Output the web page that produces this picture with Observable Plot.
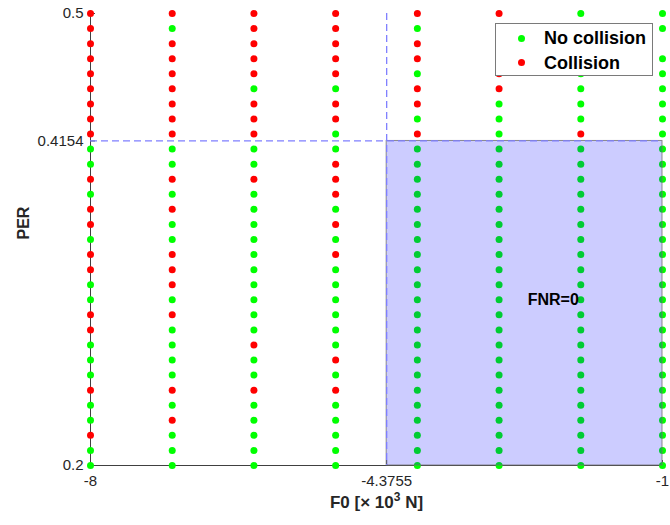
<!DOCTYPE html>
<html>
<head>
<meta charset="utf-8">
<script src="https://cdn.jsdelivr.net/npm/d3@7"></script>
<script src="https://cdn.jsdelivr.net/npm/@observablehq/plot@0.6"></script>
<style>
  body { margin: 0; background: #fff; font-family: "Liberation Sans", Arial, sans-serif; }
  #wrap { position: relative; width: 670px; height: 525px; }
  .legend { position: absolute; left: 495px; top: 23px; width: 158px; height: 53px;
            border: 1px solid #7a7a7a; background: #fff; box-sizing: border-box; }
  .dot { position: absolute; width: 7px; height: 7px; border-radius: 50%; }
  .lab { position: absolute; font-weight: bold; font-size: 18px; line-height: 18px; color: #000; white-space: nowrap; }
</style>
</head>
<body>
<div id="wrap"></div>
<script>
// ---- data ----
const f0Values = [-8, -7, -6, -5, -4, -3, -2, -1];
const perValues = [0.50, 0.49, 0.48, 0.47, 0.46, 0.45, 0.44, 0.43, 0.42, 0.41,
                   0.40, 0.39, 0.38, 0.37, 0.36, 0.35, 0.34, 0.33, 0.32, 0.31,
                   0.30, 0.29, 0.28, 0.27, 0.26, 0.25, 0.24, 0.23, 0.22, 0.21, 0.20];
// outcome per column (top 0.50 -> bottom 0.20): G = no collision, R = collision, . = no point
const outcomeColumns = [
  "RRRRRRRRRGGRGRRGRRGGRRGGGRGGRGG", // F0 = -8
  "RGRRRRRRRGGRGRGGRRRGRGGGGRGRGGG", // F0 = -7
  "RRRRRGRRRGGRGGGGGGGGGGRGGRGGGGG", // F0 = -6
  "RRRRRGRRGGRRRGRGRGGGGGGRGRGGGGG", // F0 = -5
  "RGRRGRRGRGGGGGGGGGGGGGGGGGGGGGG", // F0 = -4
  "RRRRRRGGGGGGGGGGGGGGGGGGGGGGGGG", // F0 = -3
  "GGGGGGGGRGGGGGGGGGGGGGGGGGGGGGG", // F0 = -2
  "GG.GGGGGGGGGGGGGGGGGGGGGGGGGGGG"  // F0 = -1
];
const statusLabels = ["No collision", "Collision"];
const statusCodes = ["G", "R"];
const statusColors = ["#00ff00", "#ff0000"];
const f0Threshold = -4.3755;
const perThreshold = 0.4154;
const xDomain = [-8, -1];
const yDomain = [0.2, 0.5];
const xTicks = [-8, -4.3755, -1];
const yTicks = [0.2, 0.4154, 0.5];
const xLabel = "F0 [\u00d7 10^3 N]";
const yLabel = "PER";
const annotation = {text: "FNR=0", f0: -2.65, per: 0.31};

// ---- build table ----
const points = [];
outcomeColumns.forEach((col, i) => {
  [...col].forEach((c, j) => {
    const k = statusCodes.indexOf(c);
    if (k >= 0) points.push({f0: f0Values[i], per: perValues[j], status: statusLabels[k]});
  });
});
const region = [{x1: f0Threshold, x2: xDomain[1], y1: yDomain[0], y2: perThreshold}];

const chart = Plot.plot({
  width: 670,
  height: 525,
  marginLeft: 90,
  marginRight: 8,
  marginTop: 13,
  marginBottom: 60,
  x: {domain: xDomain, axis: null},
  y: {domain: yDomain, axis: null},
  color: {domain: statusLabels, range: statusColors},
  style: {fontFamily: "'Liberation Sans', Arial, sans-serif", fontSize: "15px", color: "#262626", background: "#fff", overflow: "visible"},
  marks: [
    Plot.ruleX([xDomain[0]], {stroke: "#404040"}),
    Plot.ruleY([yDomain[0]], {stroke: "#404040"}),
    Plot.ruleY(yTicks, {x1: xDomain[0], x2: xDomain[0], insetRight: -5, stroke: "#404040"}),
    Plot.ruleX(xTicks, {y1: yDomain[0], y2: yDomain[0], insetBottom: 5, stroke: "#404040"}),
    Plot.dot(points, {x: "f0", y: "per", r: 3.5, fill: "status", stroke: "none"}),
    Plot.rect(region, {x1: "x1", x2: "x2", y1: "y1", y2: "y2", fill: "#0000ff", fillOpacity: 0.2, stroke: "#707070", strokeOpacity: 0.8}),
    Plot.ruleX([f0Threshold], {stroke: "#7f7fff", strokeDasharray: "7,4", strokeWidth: 1.3}),
    Plot.ruleY([perThreshold], {stroke: "#7f7fff", strokeDasharray: "7,4", strokeWidth: 1.3}),
    Plot.axisY(yTicks, {tickSize: 0, tickPadding: 7, tickFormat: d => String(d), fill: "#262626"}),
    Plot.axisX(xTicks, {tickSize: 0, tickPadding: 10, tickFormat: d => String(d), fill: "#262626"}),
    Plot.text([xLabel], {text: d => d, frameAnchor: "bottom", dy: 42, fontWeight: "bold", fontSize: 17, fill: "#262626", className: "xlabel"}),
    Plot.text([yLabel], {text: d => d, frameAnchor: "left", dx: -67, rotate: -90, fontWeight: "bold", fontSize: 16, fill: "#262626"}),
    Plot.text([annotation], {x: "f0", y: "per", text: "text", textAnchor: "start", fontWeight: "bold", fontSize: 16, fill: "#000"})
  ]
});

// render the "^3" as a real superscript
d3.select(chart).selectAll("g.xlabel text").each(function() {
  const t = d3.select(this);
  const s = t.text();
  const m = s.split("^");
  if (m.length === 2) {
    t.text(null);
    t.append("tspan").text(m[0]);
    t.append("tspan").attr("font-size", 12).attr("dy", "-7").text(m[1].charAt(0));
    t.append("tspan").attr("dy", "7").text(m[1].slice(1));
  }
});

const wrap = document.getElementById("wrap");
wrap.appendChild(chart);

// legend overlay
const legend = document.createElement("div");
legend.className = "legend";
statusLabels.forEach((label, i) => {
  const cy = 14 + i * 24.5;
  const dot = document.createElement("div");
  dot.className = "dot";
  dot.style.left = (25 - 3.5) + "px";
  dot.style.top = (cy - 3.5) + "px";
  dot.style.background = statusColors[i];
  const lab = document.createElement("div");
  lab.className = "lab";
  lab.style.left = "48px";
  lab.style.top = (cy - 9) + "px";
  lab.textContent = label;
  legend.appendChild(dot);
  legend.appendChild(lab);
});
wrap.appendChild(legend);
</script>
</body>
</html>
